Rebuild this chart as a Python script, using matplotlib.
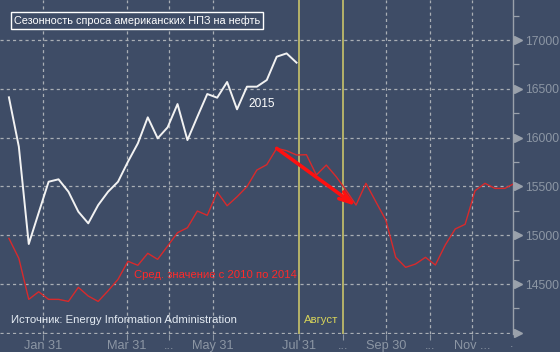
import matplotlib
matplotlib.use("Agg")
import matplotlib.pyplot as plt
import matplotlib.dates as mdates
import matplotlib.transforms as mtrans
import pandas as pd
import numpy as np

# ---------------- data ----------------
dates_2015 = pd.date_range("2015-01-07", periods=30, freq="7D")
values_2015 = [16413, 15907, 14910, 15230, 15548, 15573, 15446, 15241, 15122, 15309,
               15446, 15548, 15753, 15941, 16208, 15993, 16105, 16344, 15975, 16214,
               16447, 16409, 16570, 16290, 16522, 16522, 16590, 16829, 16863, 16768]

dates_avg = pd.date_range("2015-01-07", periods=52, freq="7D")
values_avg = [14968, 14763, 14343, 14421, 14343, 14343, 14322, 14466, 14377, 14322,
              14431, 14548, 14733, 14692, 14815, 14753, 14889, 15026, 15077, 15248,
              15204, 15443, 15302, 15394, 15497, 15668, 15723, 15890, 15866, 15822,
              15825, 15617, 15719, 15600, 15460, 15309, 15532, 15343, 15156, 14774,
              14671, 14705, 14774, 14695, 14900, 15064, 15112, 15456, 15532, 15480,
              15480, 15532]

grid_dates = pd.to_datetime(["2015-01-31", "2015-03-31", "2015-04-30", "2015-05-31",
                             "2015-07-31", "2015-08-31", "2015-09-30", "2015-10-31",
                             "2015-11-30"])
tick_labels = ["Jan 31", "Mar 31", "...", "May 31", "Jul 31", "...", "Sep 30", "...", "Nov ..."]
august_bounds = pd.to_datetime(["2015-07-31", "2015-08-31"])

y_major = [14000, 14500, 15000, 15500, 16000, 16500, 17000]
y_labels = ["", "14500", "15000", "15500", "16000", "16500", "17000"]
y_minor = [14250, 14750, 15250, 15750, 16250, 16750, 17250]

arrow_start = (pd.Timestamp("2015-07-15"), 15890)
arrow_end = (pd.Timestamp("2015-09-09"), 15300)

title = "Сезонность спроса американских НПЗ на нефть"
source = "Источник: Energy Information Administration"
avg_label = "Сред. значение с 2010 по 2014"
year_label = "2015"
aug_label = "Август"

# ---------------- style ----------------
BG = "#3e4c66"
GRID = "#a9aeb5"
TICK = "#8c96a4"
FONT = ["Liberation Sans", "DejaVu Sans"]
plt.rcParams["font.family"] = FONT

fig = plt.figure(figsize=(5.6, 3.52), dpi=100, facecolor=BG)
ax = fig.add_axes([0.0, 0.0511, 0.9166, 0.9489])
ax.set_facecolor(BG)

xmin = mdates.date2num(pd.Timestamp("2015-01-01")) - 0.3
xmax = mdates.date2num(pd.Timestamp("2015-12-29"))
ax.set_xlim(xmin, xmax)
ax.set_ylim(13988, 17410)

# grid
for yv in y_major:
    ax.axhline(yv, color=GRID, lw=0.9, ls=(0, (2.5, 2.5)), zorder=1)
for d in grid_dates:
    if d in august_bounds:
        ax.axvline(d, color="#c9c46a", lw=1.2, zorder=2)
    else:
        ax.axvline(d, color=GRID, lw=0.9, ls=(0, (2.5, 2.5)), zorder=1)

# series
ax.plot(dates_avg, values_avg, color="#d82a2c", lw=1.0, zorder=3)
ax.plot(dates_2015, values_2015, color="#f2f2f2", lw=1.4, zorder=4)

ax.annotate("", xy=arrow_end, xytext=arrow_start,
            arrowprops=dict(arrowstyle="->,head_length=0.9,head_width=0.3",
                            color="#ff1010", lw=2.6, shrinkA=0, shrinkB=0),
            zorder=5)

# spines
for s in ["top", "left", "bottom"]:
    ax.spines[s].set_visible(False)
ax.spines["right"].set_color("#9aa1ab")
ax.spines["right"].set_linewidth(1.0)

# x ticks
ax.set_xticks(mdates.date2num(grid_dates))
ax.set_xticklabels(tick_labels)
ax.tick_params(axis="x", colors=TICK, length=4, width=0.8, labelsize=9.2, pad=0,
               labelcolor=TICK, direction="out")
ax.text(xmax - 1.5, -0.012, ".", transform=mtrans.blended_transform_factory(ax.transData, ax.transAxes),
        color=TICK, fontsize=9.2, ha="center", va="top")

# y ticks on right
ax.yaxis.tick_right()
ax.set_yticks(y_major)
ax.set_yticklabels(y_labels)
ax.set_yticks(y_minor, minor=True)
ax.tick_params(axis="y", which="major", length=0, pad=8.5, labelsize=8.8, labelcolor=TICK)
ax.tick_params(axis="y", which="minor", length=4, width=0.9, color="#9aa1ab", direction="out")
ax.tick_params(axis="x", which="minor", length=0)
tri_tr = mtrans.blended_transform_factory(ax.transAxes, ax.transData)
ax.plot([1.009] * len(y_major), y_major, linestyle="none", marker=">", markersize=5.5,
        color="#9aa1ab", transform=tri_tr, clip_on=False, zorder=6)

# texts
ax.text(0.027, 0.938, title, transform=ax.transAxes, color="white", fontsize=7.8,
        ha="left", va="center",
        bbox=dict(boxstyle="square,pad=0.3", fc=BG, ec="white", lw=1.0))
ax.text(pd.Timestamp("2015-06-25"), 16344, year_label, color="white", fontsize=8.6,
        ha="left", va="center")
ax.text(pd.Timestamp("2015-04-05"), 14592, avg_label, color="#ff2a2a", fontsize=8.1,
        ha="left", va="center")
ax.text(0.022, 0.042, source, transform=ax.transAxes, color="#e4ebf3", fontsize=8.2,
        ha="left", va="center")
ax.text(pd.Timestamp("2015-08-03"), 14131, aug_label, color="#d6d35a", fontsize=8.2,
        ha="left", va="center")

fig.savefig("out.png", dpi=100, facecolor=BG)
